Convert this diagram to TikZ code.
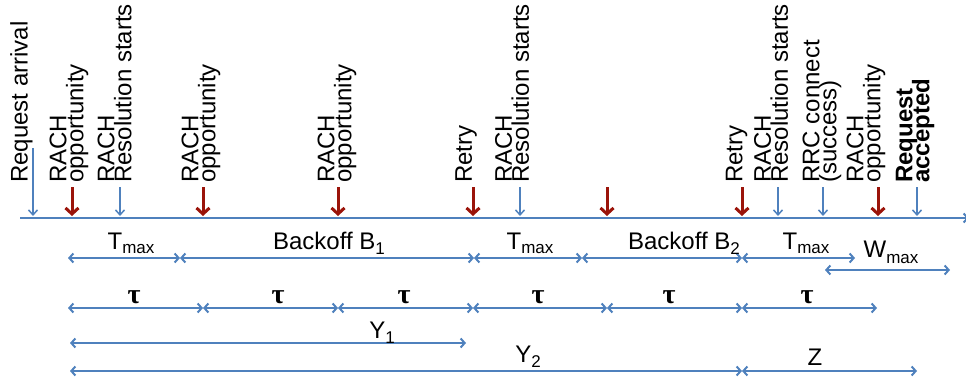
\documentclass[tikz,border=0pt]{standalone}
\usepackage{fontspec}
\setmainfont{Liberation Sans}
\newfontfamily\taufont{Liberation Serif}
\usetikzlibrary{arrows.meta}
\definecolor{tblue}{RGB}{79,129,189}
\definecolor{tred}{RGB}{155,20,10}
\newcommand{\sbs}[2][-5pt]{\raisebox{#1}{\fontsize{17}{17}\selectfont #2}}
\newcommand{\tightlines}{\fontsize{24}{17}\selectfont\lineskiplimit -100pt\relax}
\begin{document}
\begin{tikzpicture}[x=1pt,y=-1pt,
  lbl/.style={rotate=90, anchor=west, inner sep=0pt, align=left,
    font=\tightlines},
  dlbl/.style={anchor=base, inner sep=0pt, font=\fontsize{24}{28}\selectfont},
  taulbl/.style={anchor=base, inner sep=0pt, font=\fontsize{28}{30}\selectfont\taufont\bfseries},
  tline/.style={draw=tblue, line width=2pt, -{Straight Barb[length=4pt,width=9pt]}},
  bev/.style={draw=tblue, line width=1.5pt, -{Straight Barb[length=5pt,width=9pt]}},
  rev/.style={draw=tred, line width=3pt, -{Straight Barb[length=6pt,width=13pt]}},
  dim/.style={draw=tblue, line width=2pt,
    {Straight Barb[length=4pt,width=9pt]}-{Straight Barb[length=4pt,width=9pt]}}]
\useasboundingbox (0,0) rectangle (966,380);
% timeline
\coordinate (tl0) at (20,218);
\coordinate (tl1) at (969,218);
\draw[tline] (tl0) -- (tl1);
% event arrows
\coordinate (a1s) at (33,148);  \coordinate (a1e) at (33,216);
\coordinate (a2s) at (72,187);  \coordinate (a2e) at (72,216);
\coordinate (a3s) at (120,187); \coordinate (a3e) at (120,216);
\coordinate (a4s) at (203,187); \coordinate (a4e) at (203,216);
\coordinate (a5s) at (338,187); \coordinate (a5e) at (338,216);
\coordinate (a6s) at (473,187); \coordinate (a6e) at (473,216);
\coordinate (a7s) at (520,187); \coordinate (a7e) at (520,216);
\coordinate (a8s) at (607,187); \coordinate (a8e) at (607,216);
\coordinate (a9s) at (742,187); \coordinate (a9e) at (742,216);
\coordinate (a10s) at (778,187); \coordinate (a10e) at (778,216);
\coordinate (a11s) at (823,187); \coordinate (a11e) at (823,216);
\coordinate (a12s) at (878,187); \coordinate (a12e) at (878,216);
\coordinate (a13s) at (917,187); \coordinate (a13e) at (917,216);
\draw[bev] (a1s) -- (a1e);
\draw[rev] (a2s) -- (a2e);
\draw[bev] (a3s) -- (a3e);
\draw[rev] (a4s) -- (a4e);
\draw[rev] (a5s) -- (a5e);
\draw[rev] (a6s) -- (a6e);
\draw[bev] (a7s) -- (a7e);
\draw[rev] (a8s) -- (a8e);
\draw[rev] (a9s) -- (a9e);
\draw[bev] (a10s) -- (a10e);
\draw[bev] (a11s) -- (a11e);
\draw[rev] (a12s) -- (a12e);
\draw[bev] (a13s) -- (a13e);
% event labels
\node[lbl] (l1) at (21.5,183) {Request arrival};
\node[lbl] (l2) at (69,183) {RACH\\opportunity};
\node[lbl] (l3) at (114.5,183) {RACH\\Resolution starts};
\node[lbl] (l4) at (201,183) {RACH\\opportunity};
\node[lbl] (l5) at (337,183) {RACH\\opportunity};
\node[lbl] (l6) at (466,183) {Retry};
\node[lbl] (l7) at (512,183) {RACH\\Resolution starts};
\node[lbl] (l9) at (736.5,183) {Retry};
\node[lbl] (l10) at (771,183) {RACH\\Resolution starts};
\node[lbl] (l11) at (822,183) {RRC connect\\(success)};
\node[lbl] (l12) at (866,183) {RACH\\opportunity};
\node[lbl, font=\tightlines\bfseries] (l13) at (915,183) {Request\\accepted};
% row 1: Tmax / Backoff
\coordinate (r1a) at (68,258);
\coordinate (r1b) at (180,258);
\coordinate (r1c) at (474,258);
\coordinate (r1d) at (582,258);
\coordinate (r1e) at (742,258);
\coordinate (r1f) at (855,258);
\draw[dim] (r1a) -- (r1b);
\draw[dim] (r1b) -- (r1c);
\draw[dim] (r1c) -- (r1d);
\draw[dim] (r1d) -- (r1e);
\draw[dim] (r1e) -- (r1f);
\coordinate (w1) at (825,270);
\coordinate (w2) at (950,270);
\draw[dim] (w1) -- (w2);
\node[dlbl] (t1) at (131,249) {T\sbs[-4pt]{max}};
\node[dlbl] (b1) at (329,249) {Backoff B\sbs{1}};
\node[dlbl] (t2) at (530,249) {T\sbs[-4pt]{max}};
\node[dlbl] (b2) at (684,249) {Backoff B\sbs{2}};
\node[dlbl] (t3) at (806,249) {T\sbs[-4pt]{max}};
\node[dlbl] (wm) at (891,257) {W\sbs[-6pt]{max}};
% row 2: tau
\coordinate (r2a) at (68,308);
\coordinate (r2b) at (203,308);
\coordinate (r2c) at (338,308);
\coordinate (r2d) at (473,308);
\coordinate (r2e) at (607,308);
\coordinate (r2f) at (742,308);
\coordinate (r2g) at (877,308);
\draw[dim] (r2a) -- (r2b);
\draw[dim] (r2b) -- (r2c);
\draw[dim] (r2c) -- (r2d);
\draw[dim] (r2d) -- (r2e);
\draw[dim] (r2e) -- (r2f);
\draw[dim] (r2f) -- (r2g);
\node[taulbl] (u1) at (134,303) {τ};
\node[taulbl] (u2) at (278,303) {τ};
\node[taulbl] (u3) at (404,303) {τ};
\node[taulbl] (u4) at (538,303) {τ};
\node[taulbl] (u5) at (669,303) {τ};
\node[taulbl] (u6) at (807,303) {τ};
% row 3: Y1
\coordinate (y1a) at (70,343);
\coordinate (y1b) at (466,343);
\draw[dim] (y1a) -- (y1b);
\node[dlbl] (y1) at (382,338) {Y\sbs{1}};
% row 4: Y2, Z
\coordinate (y2a) at (70,371);
\coordinate (y2b) at (742,371);
\coordinate (y2c) at (917,371);
\draw[dim] (y2a) -- (y2b);
\draw[dim] (y2b) -- (y2c);
\node[dlbl] (y2) at (528,362) {Y\sbs{2}};
\node[dlbl] (z) at (815,365) {Z};
\end{tikzpicture}
\end{document}
